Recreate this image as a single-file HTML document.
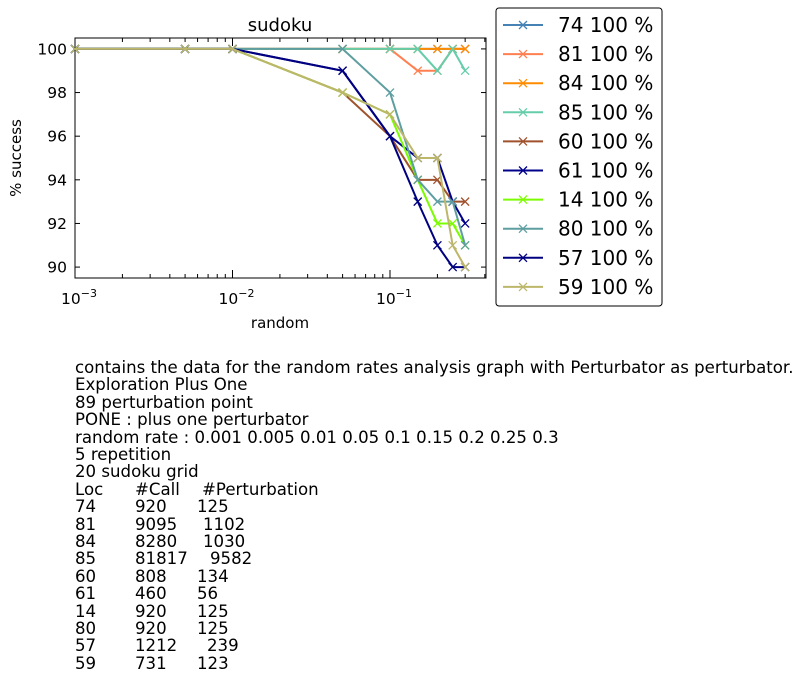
<!DOCTYPE html>
<html><head><meta charset="utf-8"><style>
body{margin:0;width:809px;height:699px;background:#fff;font-family:"Liberation Sans","DejaVu Sans",sans-serif;overflow:hidden}
svg text{font-family:"DejaVu Sans","Liberation Sans",sans-serif}
#desc{position:absolute;left:75px;top:359px;font-size:16.6px;line-height:17.4px;white-space:pre;font-family:"DejaVu Sans","Liberation Sans",sans-serif;color:#000}
.r{position:relative;height:17.4px}
.r span{position:absolute;top:0}
</style></head><body>
<svg id="chart" width="809" height="340" style="position:absolute;left:0;top:0"></svg>
<div id="desc"><div>contains the data for the random rates analysis graph with Perturbator as perturbator.</div><div>Exploration Plus One</div><div>89 perturbation point</div><div>PONE : plus one perturbator</div><div>random rate : 0.001 0.005 0.01 0.05 0.1 0.15 0.2 0.25 0.3</div><div>5 repetition</div><div>20 sudoku grid</div><div class="r"><span style="left:0">Loc</span><span style="left:60px">#Call</span><span style="left:127px">#Perturbation</span></div><div class="r"><span style="left:0">74</span><span style="left:60px">920</span><span style="left:122px">125</span></div><div class="r"><span style="left:0">81</span><span style="left:60px">9095</span><span style="left:128px">1102</span></div><div class="r"><span style="left:0">84</span><span style="left:60px">8280</span><span style="left:128px">1030</span></div><div class="r"><span style="left:0">85</span><span style="left:60px">81817</span><span style="left:135px">9582</span></div><div class="r"><span style="left:0">60</span><span style="left:60px">808</span><span style="left:122px">134</span></div><div class="r"><span style="left:0">61</span><span style="left:60px">460</span><span style="left:122px">56</span></div><div class="r"><span style="left:0">14</span><span style="left:60px">920</span><span style="left:122px">125</span></div><div class="r"><span style="left:0">80</span><span style="left:60px">920</span><span style="left:122px">125</span></div><div class="r"><span style="left:0">57</span><span style="left:60px">1212</span><span style="left:132px">239</span></div><div class="r"><span style="left:0">59</span><span style="left:60px">731</span><span style="left:122px">123</span></div></div>
<script>
const rates=[0.001,0.005,0.01,0.05,0.1,0.15,0.2,0.25,0.3];
const names=["74","81","84","85","60","61","14","80","57","59"];
const colors=["#4682b4","#ff7f50","#ff8c00","#66cdaa","#a0522d","#00008b","#7cfc00","#5f9ea0","#000080","#bdb76b"];
const s74=[100,100,100,100,100,100,100,100,100];
const s81=[100,100,100,100,100,99,99,100,100];
const s84=[100,100,100,100,100,100,100,100,100];
const s85=[100,100,100,100,100,100,99,100,99];
const s60=[100,100,100,98,96,94,94,93,93];
const s61=[100,100,100,99,96,95,95,93,92];
const s14=[100,100,100,98,97,94,92,92,91];
const s80=[100,100,100,100,98,94,93,93,91];
const s57=[100,100,100,99,96,93,91,90,90];
const s59=[100,100,100,98,97,95,95,91,90];
const series=[s74,s81,s84,s85,s60,s61,s14,s80,s57,s59];
const yTicks=[90,92,94,96,98,100];
const xTicks=[0.001,0.01,0.1];
const xTickLabels=["3","2","1"];
const L=75,R=486,T=38,B=278;
const X=v=>L+(Math.log10(v)+3)*157.5;
const Y=v=>B-(v-89.5)/11*(B-T);
const svg=document.getElementById('chart');
const NS="http://www.w3.org/2000/svg";
function mk(t,a,p){const e=document.createElementNS(NS,t);for(const k in a)e.setAttribute(k,a[k]);(p||svg).appendChild(e);return e;}
const box=mk('rect',{x:L,y:T,width:R-L,height:B-T,fill:'none',stroke:'#000','stroke-width':1});


yTicks.forEach(v=>{const y=Y(v);
mk('line',{x1:L,x2:L+5,y1:y,y2:y,stroke:'#000'});mk('line',{x1:R,x2:R-5,y1:y,y2:y,stroke:'#000'});
const t=mk('text',{x:L-8,y:y+5.5,'text-anchor':'end','font-size':15.5});t.textContent=v;

});
for(let d=-3;d<0;d++){for(let m=1;m<10;m++){const v=m*Math.pow(10,d);const x=X(v);if(x>R)break;const len=m==1?8:4;
mk('line',{x1:x,x2:x,y1:B,y2:B-len,stroke:'#000'});mk('line',{x1:x,x2:x,y1:T,y2:T+len,stroke:'#000'});}}
xTicks.forEach((v,i)=>{const x=X(v);const t=mk('text',{x:x+4,y:B+26,'text-anchor':'middle','font-size':15.5});
t.innerHTML='10<tspan dy="-7" font-size="11">\u2212'+xTickLabels[i]+'</tspan>';

});
const title=mk('text',{x:280,y:31,'text-anchor':'middle','font-size':18});title.textContent='sudoku';


const xl=mk('text',{x:280,y:328,'text-anchor':'middle','font-size':15});xl.textContent='random';


const yl=mk('text',{x:0,y:0,'text-anchor':'middle','font-size':15,transform:'translate(21,158) rotate(-90)'});yl.textContent='% success';


function cross(x,y,c,p){mk('path',{d:`M${x-4},${y-4}L${x+4},${y+4}M${x-4},${y+4}L${x+4},${y-4}`,stroke:c,'stroke-width':1.3,fill:'none'},p);}
series.forEach((s,i)=>{const g=mk('g',{});


mk('polyline',{points:s.map((v,j)=>X(rates[j])+','+Y(v)).join(' '),fill:'none',stroke:colors[i],'stroke-width':2},g);
s.forEach((v,j)=>cross(X(rates[j]),Y(v),colors[i],g));});
const lg=mk('g',{});


mk('rect',{x:496,y:8,width:166,height:298,rx:3,fill:'#fff',stroke:'#000'},lg);
names.forEach((n,i)=>{const y=25+i*29.1;const e=mk('g',{},lg);


mk('line',{x1:503,x2:543,y1:y,y2:y,stroke:colors[i],'stroke-width':2},e);cross(523,y,colors[i],e);
const t=mk('text',{x:558,y:y+7,'font-size':20},e);t.textContent=n+' 100 %';});
</script>
</body></html>
